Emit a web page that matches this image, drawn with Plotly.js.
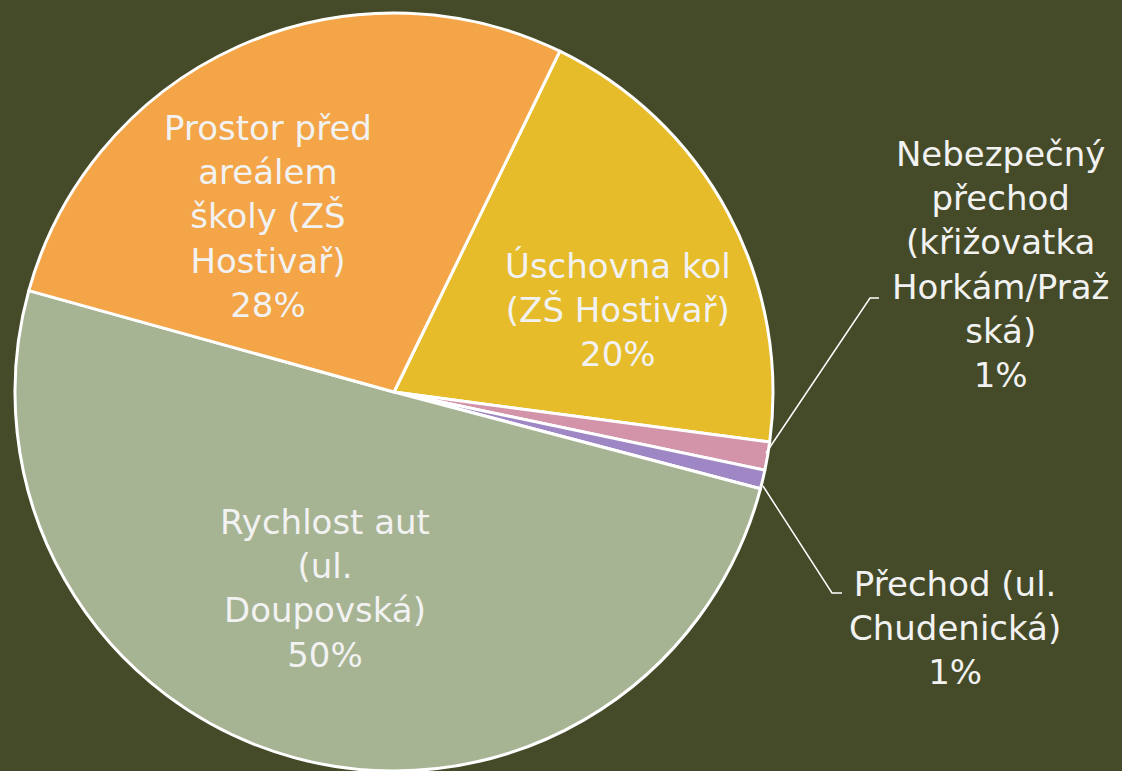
<!DOCTYPE html>
<html>
<head>
<meta charset="utf-8">
<script src="https://cdn.plot.ly/plotly-3.0.1.min.js"></script>
<style>html,body{margin:0;padding:0;background:#454B28;}#chart{width:1122px;height:771px;}</style>
</head>
<body>
<div id="chart"></div>
<script>
// Data (clockwise order, starting at the Úschovna/Prostor boundary)
const categories = [
  "Úschovna kol (ZŠ Hostivař)",
  "Nebezpečný přechod (křižovatka Horkám/Pražská)",
  "Přechod (ul. Chudenická)",
  "Rychlost aut (ul. Doupovská)",
  "Prostor před areálem školy (ZŠ Hostivař)"
];
const values = [19.9, 1.2, 0.8, 50.2, 27.9];
const labelLines = [
  "Úschovna kol<br>(ZŠ Hostivař)",
  "Nebezpečný<br>přechod<br>(křižovatka<br>Horkám/Praž<br>ská)",
  "Přechod (ul.<br>Chudenická)",
  "Rychlost aut<br>(ul.<br>Doupovská)",
  "Prostor před<br>areálem<br>školy (ZŠ<br>Hostivař)"
];
const colors = ["#E6BC2B", "#D393A8", "#9E87C4", "#A6B493", "#F3A548"];

const W = 1122, H = 771;
const px = x => x / W;
const py = y => 1 - y / H;

const total = values.reduce((a, b) => a + b, 0);
const pct = values.map(v => Math.round(v / total * 100) + "%");

// label anchor positions in pixels (layout only)
const labelPos = [[618, 310], [1000, 264], [955, 628], [325, 588], [268, 216]];

const font = {family: "DejaVu Sans", size: 34, color: "#F2F2F2"};

const annotations = labelLines.map((t, i) => ({
  xref: "paper", yref: "paper",
  x: px(labelPos[i][0]), y: py(labelPos[i][1]),
  xanchor: "center", yanchor: "middle",
  text: t + "<br>" + pct[i],
  showarrow: false, align: "center", font: font
}));

const path = pts => pts.map((p, i) => (i ? "L" : "M") + px(p[0]) + "," + py(p[1])).join(" ");
const shapes = [
  {type: "path", xref: "paper", yref: "paper", path: path([[766, 453], [870, 298], [879, 298]]), line: {color: "#FFFFFF", width: 1.5}},
  {type: "path", xref: "paper", yref: "paper", path: path([[763, 486], [832, 593], [842, 593]]), line: {color: "#FFFFFF", width: 1.5}}
];

const trace = {
  type: "pie",
  labels: categories,
  values: values,
  sort: false,
  direction: "clockwise",
  rotation: 25.95,
  textinfo: "none",
  hoverinfo: "label+percent",
  marker: {colors: colors, line: {color: "#FFFFFF", width: 3}},
  domain: {x: [15 / W, 773 / W], y: [0, 1 - 13 / H]},
  showlegend: false
};

const layout = {
  width: W, height: H,
  margin: {l: 0, r: 0, t: 0, b: 0},
  paper_bgcolor: "#454B28",
  plot_bgcolor: "#454B28",
  showlegend: false,
  annotations: annotations,
  shapes: shapes
};

Plotly.newPlot("chart", [trace], layout, {staticPlot: true});
</script>
</body>
</html>
